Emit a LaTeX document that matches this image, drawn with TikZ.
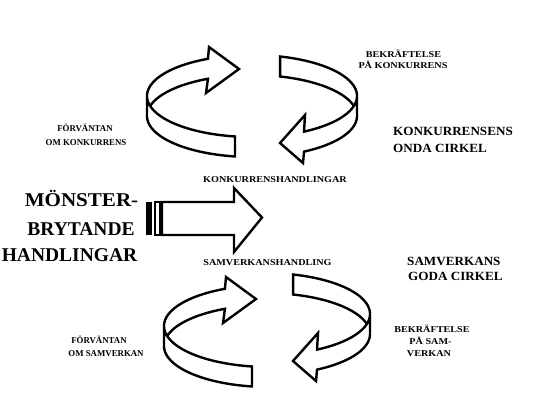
\documentclass[tikz,border=0pt]{standalone}
\usepackage{fontspec}
\setmainfont{Liberation Serif}
\newfontfamily\labfont[FakeStretch=1.13]{Liberation Serif}
\newfontfamily\midfont[FakeStretch=1.05]{Liberation Serif}
\newfontfamily\sidefont[FakeStretch=0.98]{Liberation Serif}
\newfontfamily\bigfont[FakeStretch=1.08]{Liberation Serif}
\tikzset{
  band/.style={line width=2.4pt, line join=miter},
  lab/.style={font=\labfont\bfseries\fontsize{9}{10}\selectfont, inner sep=0pt, anchor=base},
  sidelab/.style={font=\sidefont\bfseries\fontsize{9}{10}\selectfont, inner sep=0pt, anchor=base},
  midlab/.style={font=\midfont\bfseries\fontsize{12.5}{14}\selectfont, inner sep=0pt, anchor=base west},
  biglab/.style={font=\bfseries\fontsize{19.5}{22}\selectfont, inner sep=0pt, anchor=base},
}
\newcommand{\ringleftpart}{%
  \draw[band] plot[domain=194.1:245.2, samples=50] ({252+105*cos(\x)},{116+41*sin(\x)})
    -- (206,93) -- (239,69) -- (209,47)
    -- plot[domain=245.2:99.3, samples=80] ({252+105*cos(\x)},{96+41*sin(\x)})
    -- plot[domain=99.3:180, samples=50] ({252+105*cos(\x)},{116+41*sin(\x)})
    -- (147,96);}
\newcommand{\ringrightpart}{%
  \draw[band] plot[domain=345.9:285.5, samples=50] ({252+105*cos(\x)},{116+41*sin(\x)})
    -- plot[domain=285.5:420.3, samples=80] ({252+105*cos(\x)},{96+41*sin(\x)})
    -- (305,115) -- (280,143) -- (303,163)
    -- plot[domain=420.3:360, samples=50] ({252+105*cos(\x)},{116+41*sin(\x)})
    -- (357,96);}
\begin{document}
\begin{tikzpicture}[x=1pt,y=-1pt]
\useasboundingbox[fill=white] (0,0) rectangle (534,400);
% top (vicious) circle
\ringleftpart
\ringrightpart
% bottom (virtuous) circle
\begin{scope}[shift={(17,230)}]\ringleftpart\end{scope}
\begin{scope}[shift={(13,218)}]\ringrightpart\end{scope}
% middle straight arrow
\fill (146,202) rectangle (151.5,235);
\draw[line width=2pt] (154.5,202) rectangle (159.8,235);
\draw[band] (161.8,202) -- (234,202) -- (234,188) -- (262,217.5) -- (234,252) -- (234,235) -- (161.8,235) -- cycle;
% labels
\node[lab] (bek1) at (403.5,57) {BEKRÄFTELSE};
\node[lab] (bek2) at (403,68.3) {PÅ KONKURRENS};
\node[sidelab] (forv1) at (85,131.7) {FÖRVÄNTAN};
\node[sidelab] (forv2) at (86,145) {OM KONKURRENS};
\node[midlab] (onda1) at (393,135) {KONKURRENSENS};
\node[midlab] (onda2) at (393,152.7) {ONDA CIRKEL};
\node[lab] (konk) at (275,182.3) {KONKURRENSHANDLINGAR};
\node[lab] (samh) at (267.5,265.7) {SAMVERKANSHANDLING};
\node[midlab] (goda1) at (407,265) {SAMVERKANS};
\node[midlab] (goda2) at (408,280) {GODA CIRKEL};
\node[sidelab] (forv3) at (99,343.3) {FÖRVÄNTAN};
\node[sidelab] (forv4) at (106,356.7) {OM SAMVERKAN};
\node[lab] (bek3) at (432,332.7) {BEKRÄFTELSE};
\node[lab] (bek4) at (430.5,344) {PÅ SAM-};
\node[lab] (bek5) at (429,356) {VERKAN};
\node[biglab, font=\bigfont\bfseries\fontsize{19.5}{22}\selectfont] (m1) at (81.5,206.7) {MÖNSTER-};
\node[biglab] (m2) at (81,235) {BRYTANDE};
\node[biglab] (m3) at (69.5,261.7) {HANDLINGAR};
\end{tikzpicture}
\end{document}
